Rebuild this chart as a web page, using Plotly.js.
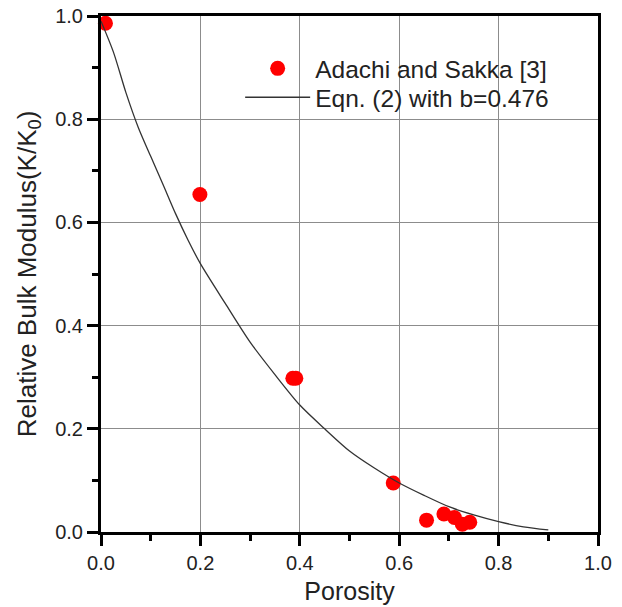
<!DOCTYPE html>
<html>
<head>
<meta charset="utf-8">
<script src="https://cdn.plot.ly/plotly-3.0.1.min.js"></script>
<style>html,body{margin:0;padding:0;background:#fff;}#chart{width:622px;height:607px;}</style>
</head>
<body>
<div id="chart"></div>
<script>
// Measured data: Adachi and Sakka [3]
var dataPorosity = [0.009, 0.199, 0.386, 0.392, 0.588, 0.655, 0.690, 0.711, 0.727, 0.742];
var dataModulus  = [0.986, 0.654, 0.298, 0.298, 0.095, 0.023, 0.035, 0.028, 0.015, 0.019];

// Eqn. (2) with b=0.476
var curvePorosity = [0, 0.025, 0.05, 0.075, 0.1, 0.125, 0.15, 0.175, 0.2, 0.25, 0.3, 0.35, 0.4, 0.45, 0.5, 0.55, 0.6, 0.65, 0.7, 0.75, 0.8, 0.85, 0.9];
var curveModulus  = [0.99, 0.93, 0.852, 0.784, 0.728, 0.673, 0.617, 0.566, 0.52, 0.443, 0.368, 0.305, 0.246, 0.200, 0.157, 0.124, 0.095, 0.071, 0.049, 0.033, 0.020, 0.010, 0.004];

var seriesNames = ['Adachi and Sakka [3]', 'Eqn. (2) with b=0.476'];
var xTitle = 'Porosity';
var yTitle = 'Relative Bulk Modulus(K/K<sub>0</sub>)';

var font = 'Liberation Sans, Arial, Helvetica, sans-serif';

var traces = [
  {
    x: dataPorosity, y: dataModulus, name: seriesNames[0],
    type: 'scatter', mode: 'markers',
    marker: {color: '#ff0000', size: 15, line: {width: 0}},
    cliponaxis: false,
    legend: 'legend'
  },
  {
    x: curvePorosity, y: curveModulus, name: seriesNames[1],
    type: 'scatter', mode: 'lines',
    line: {color: '#333333', width: 1.3, shape: 'spline', smoothing: 0.8},
    legend: 'legend2'
  }
];

var axisCommon = {
  range: [0, 1],
  dtick: 0.2,
  tick0: 0,
  tickformat: '.1f',
  showgrid: true,
  gridcolor: '#8c8c8c',
  gridwidth: 1.3,
  zeroline: false,
  showline: true,
  linecolor: '#000',
  linewidth: 3,
  mirror: true,
  ticks: 'outside',
  ticklen: 11,
  tickwidth: 3,
  tickcolor: '#000',
  tickfont: {family: font, size: 20, color: '#222'},
  minor: {dtick: 0.1, ticklen: 6, tickwidth: 3, tickcolor: '#000', ticks: 'outside', showgrid: false},
  fixedrange: true
};

var legendCommon = {
  x: 0.28, xanchor: 'left', yanchor: 'top',
  bgcolor: 'rgba(0,0,0,0)', borderwidth: 0,
  font: {family: font, size: 24.5, color: '#222'},
  itemwidth: 65
};

var layout = {
  width: 622, height: 607,
  margin: {l: 101, r: 24, t: 16, b: 75},
  paper_bgcolor: '#fff', plot_bgcolor: '#fff',
  showlegend: true,
  legend: Object.assign({}, legendCommon, {y: 0.942}),
  legend2: Object.assign({}, legendCommon, {y: 0.886}),
  xaxis: Object.assign({}, axisCommon, {
    title: {text: xTitle, font: {family: font, size: 25, color: '#222'}, standoff: 10}
  }),
  yaxis: Object.assign({}, axisCommon, {
    title: {text: yTitle, font: {family: font, size: 26, color: '#222'}, standoff: 12}
  })
};

Plotly.newPlot('chart', traces, layout, {displayModeBar: false, staticPlot: true});
</script>
</body>
</html>
